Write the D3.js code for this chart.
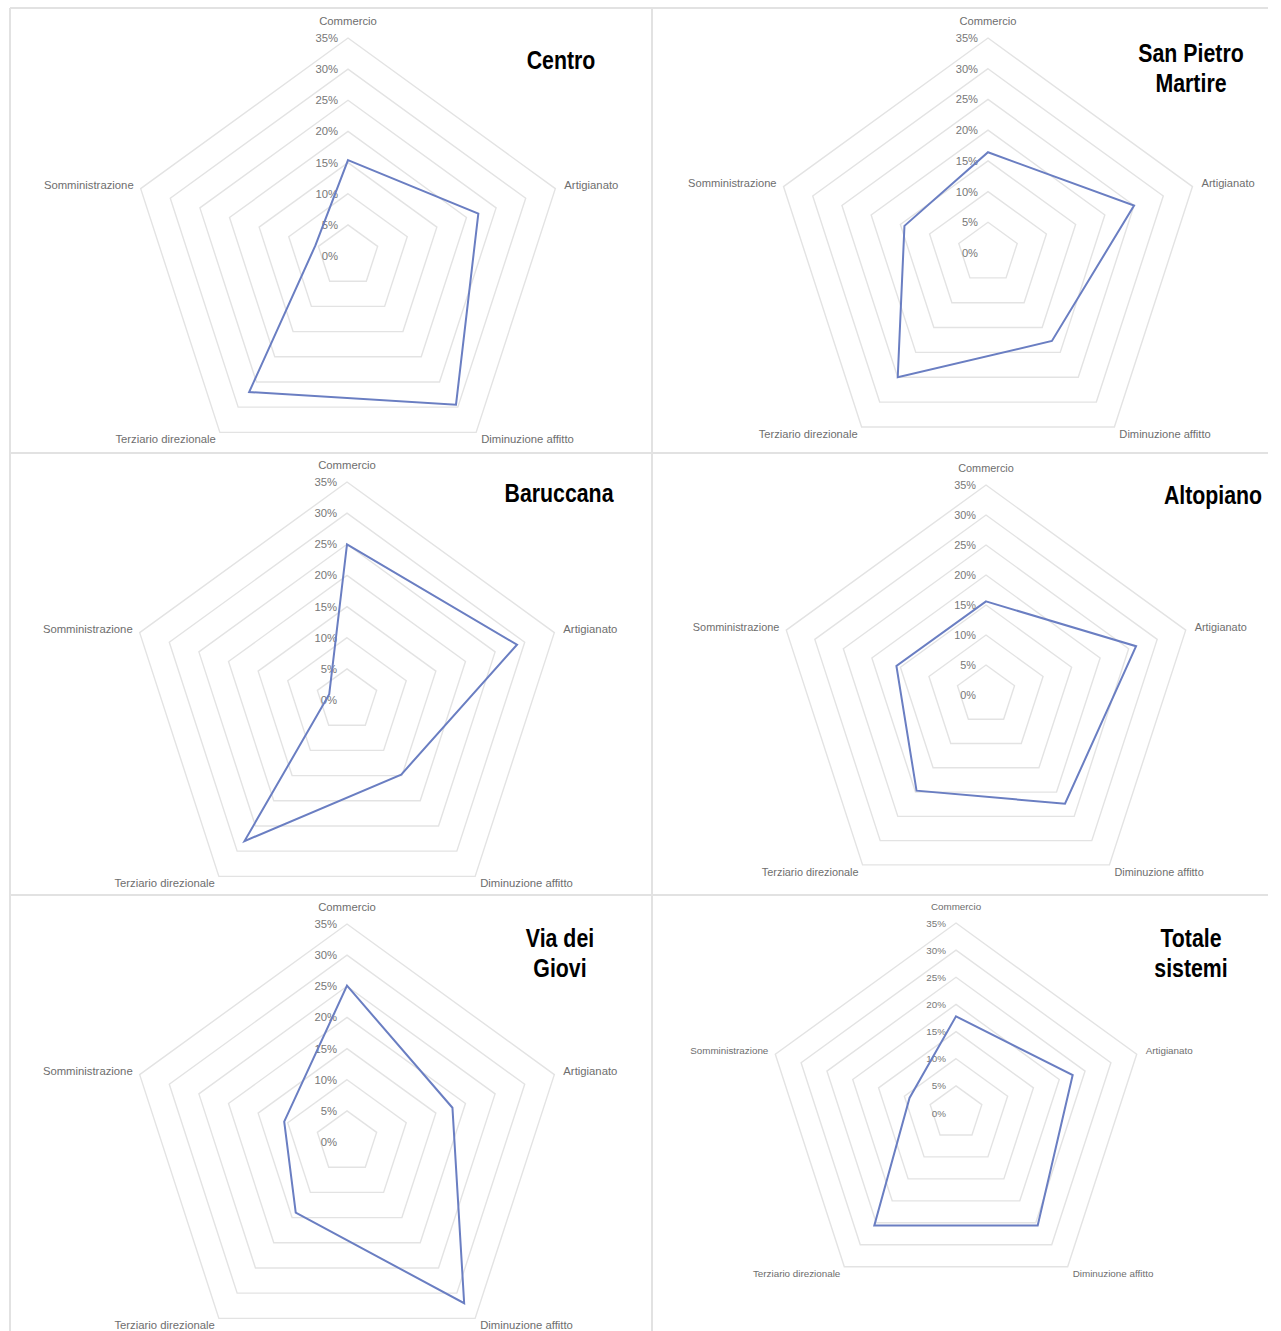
<!DOCTYPE html>
<html>
<head>
<meta charset="utf-8">
<script src="https://cdn.jsdelivr.net/npm/d3@7"></script>
<style>
  html, body { margin: 0; padding: 0; background: #fff; }
  svg { display: block; }
</style>
</head>
<body>
<svg id="chart" width="1281" height="1331"></svg>
<script>
// ---- Data ----
const categories = ["Commercio", "Artigianato", "Diminuzione affitto", "Terziario direzionale", "Somministrazione"];
const tickValues = [0, 0.05, 0.10, 0.15, 0.20, 0.25, 0.30, 0.35];
const tickLabels = ["0%", "5%", "10%", "15%", "20%", "25%", "30%", "35%"];
const panelTitles = [["Centro"], ["San Pietro", "Martire"], ["Baruccana"], ["Altopiano"], ["Via dei", "Giovi"], ["Totale", "sistemi"]];
const centro        = [0.154, 0.220, 0.295, 0.270, 0.055];
const sanPietro     = [0.164, 0.250, 0.177, 0.250, 0.143];
const baruccana     = [0.250, 0.287, 0.148, 0.280, 0.030];
const altopiano     = [0.156, 0.263, 0.224, 0.197, 0.157];
const viaDeiGiovi   = [0.251, 0.178, 0.320, 0.140, 0.106];
const totaleSistemi = [0.178, 0.226, 0.256, 0.256, 0.090];
const seriesList = [centro, sanPietro, baruccana, altopiano, viaDeiGiovi, totaleSistemi];

// ---- Layout (positions only) ----
const layout = [
  { cx: 348, cy: 256,  R: 218, tx: 561,  ty: [68.5] },
  { cx: 988, cy: 253,  R: 215, tx: 1191, ty: [62, 91.5] },
  { cx: 347, cy: 700,  R: 218, tx: 559,  ty: [501.5] },
  { cx: 986, cy: 695,  R: 210, tx: 1213, ty: [504] },
  { cx: 347, cy: 1142, R: 218, tx: 560,  ty: [947, 976.5] },
  { cx: 956, cy: 1113, R: 190, tx: 1191, ty: [947, 976.5] }
];

const svg = d3.select("#chart");

// table borders
const border = svg.append("g").attr("stroke", "#e2e2e2").attr("stroke-width", 2).attr("fill", "none");
border.append("line").attr("x1", 10).attr("y1", 8).attr("x2", 10).attr("y2", 1331);
border.append("line").attr("x1", 652).attr("y1", 8).attr("x2", 652).attr("y2", 1331);
[8, 453, 895].forEach(y => border.append("line").attr("x1", 10).attr("y1", y).attr("x2", 1268).attr("y2", y));

const n = categories.length;
const angle = i => (i * 2 * Math.PI) / n;   // 0 = up, clockwise

seriesList.forEach((values, p) => {
  const L = layout[p];
  const g = svg.append("g").attr("transform", `translate(${L.cx},${L.cy})`);
  const r = d3.scaleLinear().domain([0, 0.35]).range([0, L.R]);
  const fs = 11.3 * L.R / 218;
  const pt = (i, v) => [Math.sin(angle(i)) * r(v), -Math.cos(angle(i)) * r(v)];

  const lineGen = d3.line().curve(d3.curveLinearClosed);

  // grid rings
  g.append("g").selectAll("path").data(tickValues.filter(t => t > 0)).join("path")
    .attr("d", t => lineGen(d3.range(n).map(i => pt(i, t))))
    .attr("fill", "none").attr("stroke", "#e3e3e3").attr("stroke-width", 1.4);

  // tick labels
  g.append("g").selectAll("text").data(tickValues).join("text")
    .attr("x", -10).attr("y", t => -r(t))
    .attr("text-anchor", "end").attr("dominant-baseline", "central")
    .attr("font-family", "Liberation Sans, Arial, sans-serif").attr("font-size", fs)
    .attr("fill", "#777")
    .text((t, i) => tickLabels[i]);

  // axis labels
  const labelPos = [
    { dx: 0,  dy: -17, anchor: "middle" },
    { dx: 9,  dy: -3.5, anchor: "start" },
    { dx: 5,  dy: 7,   anchor: "start" },
    { dx: -4, dy: 7,   anchor: "end" },
    { dx: -7, dy: -3.5, anchor: "end" }
  ];
  g.append("g").selectAll("text").data(categories).join("text")
    .attr("x", (c, i) => pt(i, 0.35)[0] + labelPos[i].dx)
    .attr("y", (c, i) => pt(i, 0.35)[1] + labelPos[i].dy)
    .attr("text-anchor", (c, i) => labelPos[i].anchor)
    .attr("dominant-baseline", "central")
    .attr("font-family", "Liberation Sans, Arial, sans-serif").attr("font-size", fs)
    .attr("fill", "#6e6e6e")
    .text(c => c);

  // data polygon
  g.append("path")
    .attr("d", lineGen(values.map((v, i) => pt(i, v))))
    .attr("fill", "none").attr("stroke", "#6a7ec2").attr("stroke-width", 2)
    .attr("stroke-linejoin", "miter");

  // title
  panelTitles[p].forEach((t, k) => {
    svg.append("g").attr("transform", `translate(${L.tx},${L.ty[k]}) scale(0.82,1)`)
      .append("text")
      .attr("text-anchor", "middle")
      .attr("font-family", "Liberation Sans, Arial, sans-serif")
      .attr("font-weight", "bold").attr("font-size", 26).attr("fill", "#000")
      .text(t);
  });
});
</script>
</body>
</html>
